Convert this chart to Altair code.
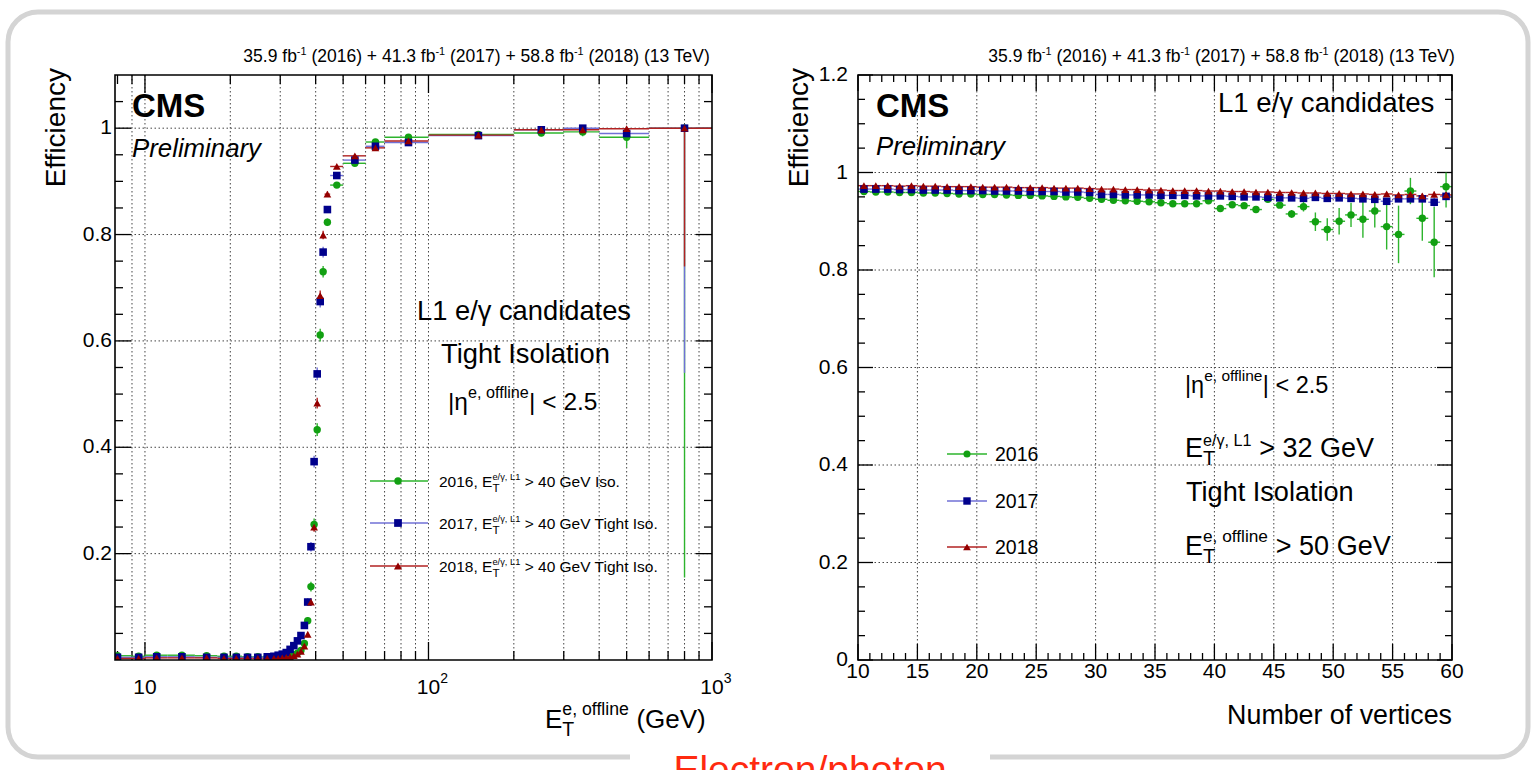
import altair as alt
import pandas as pd

FONT = "Liberation Sans"

# ---------------- data ----------------
years = ["2016", "2017", "2018"]

# left panel: efficiency vs offline E_T (bins in GeV)
et_lo = [7, 9, 10, 12, 15, 18, 20, 22, 24, 26, 28, 29, 30, 31, 32, 33, 34, 35, 36, 37,
         38, 39, 40, 41, 42, 43, 45, 50, 60, 70, 100, 200, 300, 400, 600]
et_hi = [9, 10, 12, 15, 18, 20, 22, 24, 26, 28, 29, 30, 31, 32, 33, 34, 35, 36, 37, 38,
         39, 40, 41, 42, 43, 45, 50, 60, 70, 100, 200, 300, 400, 600, 1000]
eff_et_2016 = [0.008, 0.007, 0.009, 0.009, 0.008, 0.007, 0.007, 0.006, 0.006, 0.006,
               0.006, 0.006, 0.007, 0.007, 0.008, 0.010, 0.013, 0.018, 0.031, 0.074,
               0.138, 0.255, 0.433, 0.611, 0.730, 0.823, 0.893, 0.934, 0.974, 0.983,
               0.988, 0.991, 0.993, 0.983, 1.000]
eff_et_2017 = [0.005, 0.005, 0.006, 0.006, 0.005, 0.005, 0.005, 0.005, 0.005, 0.006,
               0.007, 0.009, 0.011, 0.014, 0.020, 0.027, 0.036, 0.046, 0.065, 0.109,
               0.213, 0.373, 0.538, 0.674, 0.767, 0.847, 0.911, 0.940, 0.966, 0.973,
               0.986, 0.997, 1.000, 0.990, 1.000]
eff_et_2018 = [0.003, 0.003, 0.004, 0.004, 0.004, 0.003, 0.003, 0.003, 0.003, 0.003,
               0.003, 0.003, 0.004, 0.005, 0.006, 0.008, 0.011, 0.016, 0.026, 0.048,
               0.109, 0.250, 0.483, 0.685, 0.799, 0.876, 0.928, 0.948, 0.963, 0.976,
               0.987, 0.997, 0.997, 0.999, 1.000]
err_et_2016 = [0.002, 0.002, 0.002, 0.002, 0.002, 0.002, 0.002, 0.002, 0.002, 0.002,
               0.002, 0.002, 0.002, 0.002, 0.002, 0.003, 0.003, 0.004, 0.005, 0.007,
               0.009, 0.011, 0.012, 0.012, 0.011, 0.007, 0.004, 0.004, 0.004, 0.004,
               0.003, 0.006, 0.008, 0.020, 0.845]
err_et_2017 = [0.002, 0.002, 0.002, 0.002, 0.002, 0.002, 0.002, 0.002, 0.002, 0.002,
               0.002, 0.002, 0.002, 0.002, 0.003, 0.003, 0.004, 0.004, 0.005, 0.007,
               0.009, 0.011, 0.012, 0.011, 0.010, 0.006, 0.004, 0.004, 0.004, 0.004,
               0.003, 0.004, 0.003, 0.012, 0.460]
err_et_2018 = [0.001, 0.001, 0.001, 0.001, 0.001, 0.001, 0.001, 0.001, 0.001, 0.001,
               0.001, 0.001, 0.001, 0.002, 0.002, 0.002, 0.002, 0.003, 0.004, 0.005,
               0.007, 0.009, 0.010, 0.010, 0.008, 0.005, 0.003, 0.003, 0.003, 0.003,
               0.002, 0.003, 0.003, 0.006, 0.260]

# right panel: efficiency vs number of vertices
nvtx_lo = list(range(10, 60))
nvtx_hi = list(range(11, 61))
eff_nv_2016 = [0.961, 0.960, 0.960, 0.959, 0.959, 0.958, 0.958, 0.957, 0.956, 0.956,
               0.955, 0.955, 0.954, 0.953, 0.953, 0.952, 0.951, 0.950, 0.949, 0.947,
               0.945, 0.943, 0.942, 0.941, 0.940, 0.938, 0.936, 0.936, 0.936, 0.942,
               0.926, 0.934, 0.932, 0.924, 0.945, 0.933, 0.915, 0.930, 0.899, 0.883,
               0.900, 0.913, 0.904, 0.921, 0.889, 0.873, 0.962, 0.906, 0.857, 0.971]
eff_nv_2017 = [0.966, 0.966, 0.966, 0.965, 0.965, 0.964, 0.964, 0.964, 0.963, 0.963,
               0.963, 0.962, 0.962, 0.962, 0.961, 0.961, 0.961, 0.960, 0.960, 0.959,
               0.955, 0.955, 0.954, 0.954, 0.954, 0.953, 0.953, 0.953, 0.952, 0.952,
               0.952, 0.951, 0.950, 0.950, 0.949, 0.948, 0.948, 0.947, 0.949, 0.947,
               0.948, 0.947, 0.946, 0.945, 0.941, 0.946, 0.946, 0.946, 0.939, 0.951]
eff_nv_2018 = [0.973, 0.973, 0.973, 0.972, 0.973, 0.972, 0.972, 0.971, 0.971, 0.971,
               0.970, 0.970, 0.970, 0.969, 0.969, 0.969, 0.968, 0.968, 0.968, 0.967,
               0.966, 0.966, 0.965, 0.965, 0.964, 0.964, 0.963, 0.963, 0.963, 0.962,
               0.962, 0.961, 0.961, 0.960, 0.960, 0.959, 0.959, 0.958, 0.958, 0.957,
               0.957, 0.956, 0.956, 0.955, 0.956, 0.954, 0.955, 0.952, 0.955, 0.954]
err_nv_2016 = [0.002, 0.002, 0.002, 0.002, 0.002, 0.002, 0.002, 0.002, 0.002, 0.002,
               0.002, 0.002, 0.002, 0.002, 0.002, 0.002, 0.002, 0.003, 0.003, 0.003,
               0.003, 0.003, 0.003, 0.003, 0.003, 0.004, 0.004, 0.004, 0.004, 0.005,
               0.005, 0.005, 0.005, 0.006, 0.006, 0.006, 0.008, 0.010, 0.019, 0.023,
               0.027, 0.025, 0.038, 0.034, 0.047, 0.059, 0.027, 0.046, 0.072, 0.043]
err_nv_2017 = [0.001, 0.001, 0.001, 0.001, 0.001, 0.001, 0.001, 0.001, 0.001, 0.001,
               0.001, 0.001, 0.001, 0.001, 0.001, 0.001, 0.001, 0.001, 0.001, 0.001,
               0.001, 0.001, 0.001, 0.001, 0.002, 0.002, 0.002, 0.002, 0.002, 0.002,
               0.002, 0.002, 0.002, 0.003, 0.003, 0.003, 0.003, 0.003, 0.004, 0.004,
               0.004, 0.004, 0.005, 0.005, 0.005, 0.006, 0.006, 0.007, 0.009, 0.008]
err_nv_2018 = [0.001, 0.001, 0.001, 0.001, 0.001, 0.001, 0.001, 0.001, 0.001, 0.001,
               0.001, 0.001, 0.001, 0.001, 0.001, 0.001, 0.001, 0.001, 0.001, 0.001,
               0.001, 0.001, 0.001, 0.001, 0.001, 0.001, 0.001, 0.002, 0.002, 0.002,
               0.002, 0.002, 0.002, 0.002, 0.002, 0.002, 0.003, 0.003, 0.003, 0.003,
               0.003, 0.003, 0.004, 0.004, 0.004, 0.004, 0.005, 0.005, 0.006, 0.006]

# axis tick labels
et_label_vals = [10, 100, 1000]
et_label_sup = ["", "2", "3"]
eff_left_vals = [0.2, 0.4, 0.6, 0.8, 1.0]
eff_left_labels = ["0.2", "0.4", "0.6", "0.8", "1"]
nv_label_vals = [10, 15, 20, 25, 30, 35, 40, 45, 50, 55, 60]
eff_right_vals = [0.0, 0.2, 0.4, 0.6, 0.8, 1.0, 1.2]
eff_right_labels = ["0", "0.2", "0.4", "0.6", "0.8", "1", "1.2"]

# ---------------- styles ----------------
MARKER = ["#12a012", "#00008c", "#940000"]
LINE = ["#2db42d", "#7070d6", "#b22222"]
SHAPE = ["circle", "square", "triangle-up"]

# geometry (absolute page pixels for the two plot frames)
LX0, RX0, Y0 = 115, 858, 75
W1, W2, H = 597, 594, 585

DUMMY = pd.DataFrame({"d": [0]})

AW = {' ': 278, '(': 333, ')': 333, '+': 584, ',': 278, '-': 333, '.': 278, '/': 278,
      '<': 584, '>': 584, '|': 260, 'C': 722, 'E': 667, 'G': 778, 'I': 278, 'L': 556,
      'M': 833, 'N': 722, 'P': 667, 'S': 667, 'T': 611, 'V': 667,
      'a': 556, 'b': 556, 'c': 500, 'd': 556, 'e': 556, 'f': 278, 'g': 556, 'h': 556,
      'i': 222, 'l': 222, 'm': 833, 'n': 556, 'o': 556, 'r': 333, 's': 500, 't': 278,
      'u': 556, 'v': 500, 'y': 500, 'γ': 500, 'η': 556}


def tw(s, fs):
    return sum(AW.get(ch, 556) for ch in s) * fs / 1000.0


def rich(parts, x, y, fs, anchor="left", sup_scale=0.6, sup_raise=0.42,
         sub_scale=0.75, sub_drop=0.28, **style):
    items, cx = [], 0.0

    def put(s, dy, f):
        lead = len(s) - len(s.lstrip(" "))
        items.append((cx + tw(" " * lead, f), dy, s.strip(" "), f))
        return tw(s, f)

    for p in parts:
        if p[0] == "n":
            cx += put(p[1], 0.0, fs)
        elif p[0] == "sup":
            cx += put(p[1], -fs * sup_raise, fs * sup_scale)
        elif p[0] == "subsup":
            fa, fb = fs * sub_scale, fs * sup_scale
            items.append((cx, fs * sub_drop, p[1], fa))
            items.append((cx, -fs * sup_raise, p[2], fb))
            cx += max(tw(p[1], fa), tw(p[2], fb))
    x0 = x - cx if anchor == "right" else x
    return [dict(x=x0 + dx, y=y + dy, t=t, fs=f, **style) for dx, dy, t, f in items]


def tlayer(it, ox, oy):
    kw = dict(align="left", baseline="alphabetic", font=FONT,
              fontSize=it["fs"], color=it.get("color", "black"))
    if it.get("bold"):
        kw["fontWeight"] = "bold"
    if it.get("italic"):
        kw["fontStyle"] = "italic"
    if it.get("angle"):
        kw["angle"] = it["angle"]
        kw["align"] = "right"
        kw["baseline"] = "middle"
    if it.get("center"):
        kw["align"] = "center"
    return alt.Chart(DUMMY).mark_text(**kw).encode(
        x=alt.value(it["x"] - ox), y=alt.value(it["y"] - oy), text=alt.value(it["t"]))


def make_df(lo, hi, effs, errs):
    rows = []
    for yr, ev, er in zip(years, effs, errs):
        for a, b, e, r in zip(lo, hi, ev, er):
            rows.append({"year": yr, "lo": a, "hi": b, "c": (a + b) / 2, "eff": e,
                         "elo": max(0.0, e - r), "ehi": min(1.0, e + r)})
    return pd.DataFrame(rows)


def data_layers(df, xs, ys, sizes):
    base = alt.Chart(df)
    stroke = alt.Stroke("year:N", scale=alt.Scale(domain=years, range=LINE), legend=None)
    h = base.mark_rule(strokeWidth=1.4, clip=True).encode(
        x=alt.X("lo:Q", scale=xs, axis=None), x2="hi:Q",
        y=alt.Y("eff:Q", scale=ys, axis=None), stroke=stroke)
    v = base.mark_rule(strokeWidth=1.4, clip=True).encode(
        x=alt.X("c:Q", scale=xs, axis=None),
        y=alt.Y("elo:Q", scale=ys, axis=None), y2="ehi:Q", stroke=stroke)
    p = base.mark_point(filled=True, opacity=1, strokeWidth=0, clip=True).encode(
        x=alt.X("c:Q", scale=xs, axis=None), y=alt.Y("eff:Q", scale=ys, axis=None),
        fill=alt.Fill("year:N", scale=alt.Scale(domain=years, range=MARKER), legend=None),
        shape=alt.Shape("year:N", scale=alt.Scale(domain=years, range=SHAPE), legend=None),
        size=alt.Size("year:O", scale=alt.Scale(domain=years, range=sizes), legend=None))
    return [h, v, p]


def grid_x(vals, xs):
    return alt.Chart(pd.DataFrame({"v": vals})).mark_rule(
        color="#444444", strokeWidth=1, strokeDash=[1.5, 2.5]).encode(
        x=alt.X("v:Q", scale=xs, axis=None))


def grid_y(vals, ys):
    return alt.Chart(pd.DataFrame({"v": vals})).mark_rule(
        color="#444444", strokeWidth=1, strokeDash=[1.5, 2.5]).encode(
        y=alt.Y("v:Q", scale=ys, axis=None))


def yticks(vals, ys, L, W):
    d = alt.Chart(pd.DataFrame({"v": vals}))
    a = d.mark_rule(color="black", strokeWidth=1.3).encode(
        y=alt.Y("v:Q", scale=ys, axis=None), x=alt.value(0), x2=alt.value(L))
    b = d.mark_rule(color="black", strokeWidth=1.3).encode(
        y=alt.Y("v:Q", scale=ys, axis=None), x=alt.value(W - L), x2=alt.value(W))
    return [a, b]


def xticks(vals, xs, L):
    d = alt.Chart(pd.DataFrame({"v": vals}))
    a = d.mark_rule(color="black", strokeWidth=1.3).encode(
        x=alt.X("v:Q", scale=xs, axis=None), y=alt.value(H - L), y2=alt.value(H))
    b = d.mark_rule(color="black", strokeWidth=1.3).encode(
        x=alt.X("v:Q", scale=xs, axis=None), y=alt.value(0), y2=alt.value(L))
    return [a, b]


def frame(W):
    return alt.Chart(DUMMY).mark_rect(fillOpacity=0, stroke="black", strokeWidth=1.6).encode(
        x=alt.value(0), x2=alt.value(W), y=alt.value(0), y2=alt.value(H))


def legend_entry(x1, x2, xm, y, color_line, color_mark, shape, size, ox, oy):
    ln = alt.Chart(DUMMY).mark_rule(color=color_line, strokeWidth=1.4).encode(
        x=alt.value(x1 - ox), x2=alt.value(x2 - ox), y=alt.value(y - oy))
    mk = alt.Chart(DUMMY).mark_point(filled=True, opacity=1, shape=shape, size=size,
                                     fill=color_mark, strokeWidth=0).encode(
        x=alt.value(xm - ox), y=alt.value(y - oy))
    return [ln, mk]


header = [("n", "35.9 fb"), ("sup", "-1"), ("n", " (2016) + 41.3 fb"), ("sup", "-1"),
          ("n", " (2017) + 58.8 fb"), ("sup", "-1"), ("n", " (2018) (13 TeV)")]

# ================= LEFT PANEL =================
xs1 = alt.Scale(type="log", domain=[7.84, 1000], nice=False)
ys1 = alt.Scale(domain=[0, 1.1], nice=False, zero=False)
df1 = make_df(et_lo, et_hi, [eff_et_2016, eff_et_2017, eff_et_2018],
              [err_et_2016, err_et_2017, err_et_2018])

lx_grid = [9, 10, 20, 30, 40, 50, 60, 70, 80, 90, 100, 200, 300, 400, 500, 600, 700, 800, 900]
lx_minor = [8, 9, 20, 30, 40, 50, 60, 70, 80, 90, 200, 300, 400, 500, 600, 700, 800, 900]
ly_minor = [round(0.05 * i, 2) for i in range(1, 22) if i % 4]

L = []
# slide frame (rounded, light grey) and the gap for the slide title at the bottom
L.append(alt.Chart(DUMMY).mark_rect(fillOpacity=0, stroke="#d4d4d4", strokeWidth=5, cornerRadius=30).encode(
    x=alt.value(8 - LX0), x2=alt.value(1528 - LX0), y=alt.value(12 - Y0), y2=alt.value(757 - Y0)))
L.append(alt.Chart(DUMMY).mark_rect(fill="white", strokeWidth=0).encode(
    x=alt.value(630 - LX0), x2=alt.value(990 - LX0), y=alt.value(748 - Y0), y2=alt.value(775 - Y0)))
L.append(grid_x(lx_grid, xs1))
L.append(grid_y(eff_left_vals, ys1))
L += xticks([10, 100, 1000], xs1, 18) + xticks(lx_minor, xs1, 9)
L += yticks(eff_left_vals, ys1, 16, W1) + yticks(ly_minor, ys1, 8, W1)
L += data_layers(df1, xs1, ys1, [55, 60, 66])
L.append(frame(W1))
# tick labels
L.append(alt.Chart(pd.DataFrame({"v": eff_left_vals, "t": eff_left_labels})).mark_text(
    font=FONT, fontSize=21, align="right", baseline="middle").encode(
    x=alt.value(-3), y=alt.Y("v:Q", scale=ys1, axis=None), text="t:N"))
L.append(alt.Chart(pd.DataFrame({"v": et_label_vals, "t": ["10"] * 3})).mark_text(
    font=FONT, fontSize=21, align="center", baseline="middle").encode(
    x=alt.X("v:Q", scale=xs1, axis=None), y=alt.value(613), text="t:N"))
L.append(alt.Chart(pd.DataFrame({"v": et_label_vals[1:], "t": et_label_sup[1:]})).mark_text(
    font=FONT, fontSize=14, align="left", baseline="middle", dx=tw("10", 21) / 2, dy=-9).encode(
    x=alt.X("v:Q", scale=xs1, axis=None), y=alt.value(613), text="t:N"))

texts_L = []
texts_L += rich(header, 712, 62, 17.5, anchor="right", sup_scale=0.62, sup_raise=0.38)
texts_L.append(dict(x=132, y=117, t="CMS", fs=33, bold=True))
texts_L.append(dict(x=132, y=157, t="Preliminary", fs=25.8, italic=True))
texts_L += rich([("n", "L1 e/γ candidates")], 417, 320, 27.3)
texts_L += rich([("n", "Tight Isolation")], 441, 363, 27.3)
texts_L += rich([("n", "|η"), ("sup", "e, offline"), ("n", "| < 2.5")], 448, 410, 24.5,
                sup_scale=0.66, sup_raise=0.5)
texts_L += rich([("n", "E"), ("subsup", "T", "e, offline"), ("n", " (GeV)")], 545, 728, 26,
                sup_scale=0.68, sup_raise=0.5, sub_scale=0.75, sub_drop=0.3)
texts_L.append(dict(x=57, y=68, t="Efficiency", fs=28, angle=270))
leg_L_y = [481, 523, 566]
leg_L_tail = [" > 40 GeV Iso.", " > 40 GeV Tight Iso.", " > 40 GeV Tight Iso."]
for i in range(3):
    L += legend_entry(370, 428, 398, leg_L_y[i], LINE[i], MARKER[i], SHAPE[i], [55, 60, 66][i], LX0, Y0)
    texts_L += rich([("n", years[i] + ", E"), ("subsup", "T", "e/γ, L1"), ("n", leg_L_tail[i])],
                    439, leg_L_y[i] + 6, 15.5, sup_scale=0.6, sup_raise=0.45,
                    sub_scale=0.75, sub_drop=0.3)
# slide title at the bottom, cut by the window edge
texts_L.append(dict(x=810, y=783, t="Electron/photon", fs=39, color="#ff2a10", center=True))
L += [tlayer(it, LX0, Y0) for it in texts_L]

left = alt.layer(*L).properties(width=W1, height=H)

# ================= RIGHT PANEL =================
xs2 = alt.Scale(domain=[10, 60], nice=False, zero=False)
ys2 = alt.Scale(domain=[0, 1.2], nice=False, zero=False)
df2 = make_df(nvtx_lo, nvtx_hi, [eff_nv_2016, eff_nv_2017, eff_nv_2018],
              [err_nv_2016, err_nv_2017, err_nv_2018])
rx_grid = [15, 20, 25, 30, 35, 40, 45, 50, 55]
rx_minor = [v for v in range(11, 60) if v % 5]
ry_minor = [round(0.05 * i, 2) for i in range(1, 24) if i % 4]

R = []
R.append(grid_x(rx_grid, xs2))
R.append(grid_y([0.2, 0.4, 0.6, 0.8, 1.0], ys2))
R += xticks(nv_label_vals, xs2, 16) + xticks(rx_minor, xs2, 7)
R += yticks(eff_right_vals, ys2, 15, W2) + yticks(ry_minor, ys2, 7, W2)
R += data_layers(df2, xs2, ys2, [85, 95, 100])
R.append(frame(W2))
R.append(alt.Chart(pd.DataFrame({"v": eff_right_vals, "t": eff_right_labels})).mark_text(
    font=FONT, fontSize=21, align="right", baseline="middle").encode(
    x=alt.value(-10), y=alt.Y("v:Q", scale=ys2, axis=None), text="t:N"))
R.append(alt.Chart(pd.DataFrame({"v": nv_label_vals, "t": [str(v) for v in nv_label_vals]})).mark_text(
    font=FONT, fontSize=21, align="center", baseline="middle").encode(
    x=alt.X("v:Q", scale=xs2, axis=None), y=alt.value(597), text="t:N"))

texts_R = []
texts_R += rich(header, 1457, 62, 17.5, anchor="right", sup_scale=0.62, sup_raise=0.38)
texts_R.append(dict(x=876, y=117, t="CMS", fs=33, bold=True))
texts_R.append(dict(x=876, y=155, t="Preliminary", fs=25.8, italic=True))
texts_R += rich([("n", "L1 e/γ candidates")], 1218, 112, 27.6)
texts_R += rich([("n", "|η"), ("sup", "e, offline"), ("n", "| < 2.5")], 1185, 393, 23.5,
                sup_scale=0.66, sup_raise=0.5)
texts_R += rich([("n", "E"), ("subsup", "T", "e/γ, L1"), ("n", " > 32 GeV")], 1185, 457, 27,
                sup_scale=0.6, sup_raise=0.42, sub_scale=0.75, sub_drop=0.28)
texts_R += rich([("n", "Tight Isolation")], 1186, 501, 27.1)
texts_R += rich([("n", "E"), ("subsup", "T", "e, offline"), ("n", " > 50 GeV")], 1185, 555, 27,
                sup_scale=0.64, sup_raise=0.48, sub_scale=0.75, sub_drop=0.28)
texts_R += rich([("n", "Number of vertices")], 1452, 724, 26.8, anchor="right")
texts_R.append(dict(x=800, y=68, t="Efficiency", fs=28, angle=270))
leg_R_y = [454, 501, 547]
for i in range(3):
    R += legend_entry(947, 987, 967, leg_R_y[i], LINE[i], MARKER[i], SHAPE[i], [50, 55, 60][i], RX0, Y0)
    texts_R += rich([("n", years[i])], 995, leg_R_y[i] + 7, 19.5)
R += [tlayer(it, RX0, Y0) for it in texts_R]

right = alt.layer(*R).properties(width=W2, height=H)

chart = alt.hconcat(left, right, spacing=RX0 - LX0 - W1, bounds="flush").properties(
    autosize=alt.AutoSizeParams(type="none"),
    padding={"left": LX0, "top": Y0, "right": 1532 - LX0, "bottom": 770 - Y0},
    background="white",
).configure_view(strokeWidth=0)

chart.save("out.html", embed_options={"renderer": "svg", "actions": False})
